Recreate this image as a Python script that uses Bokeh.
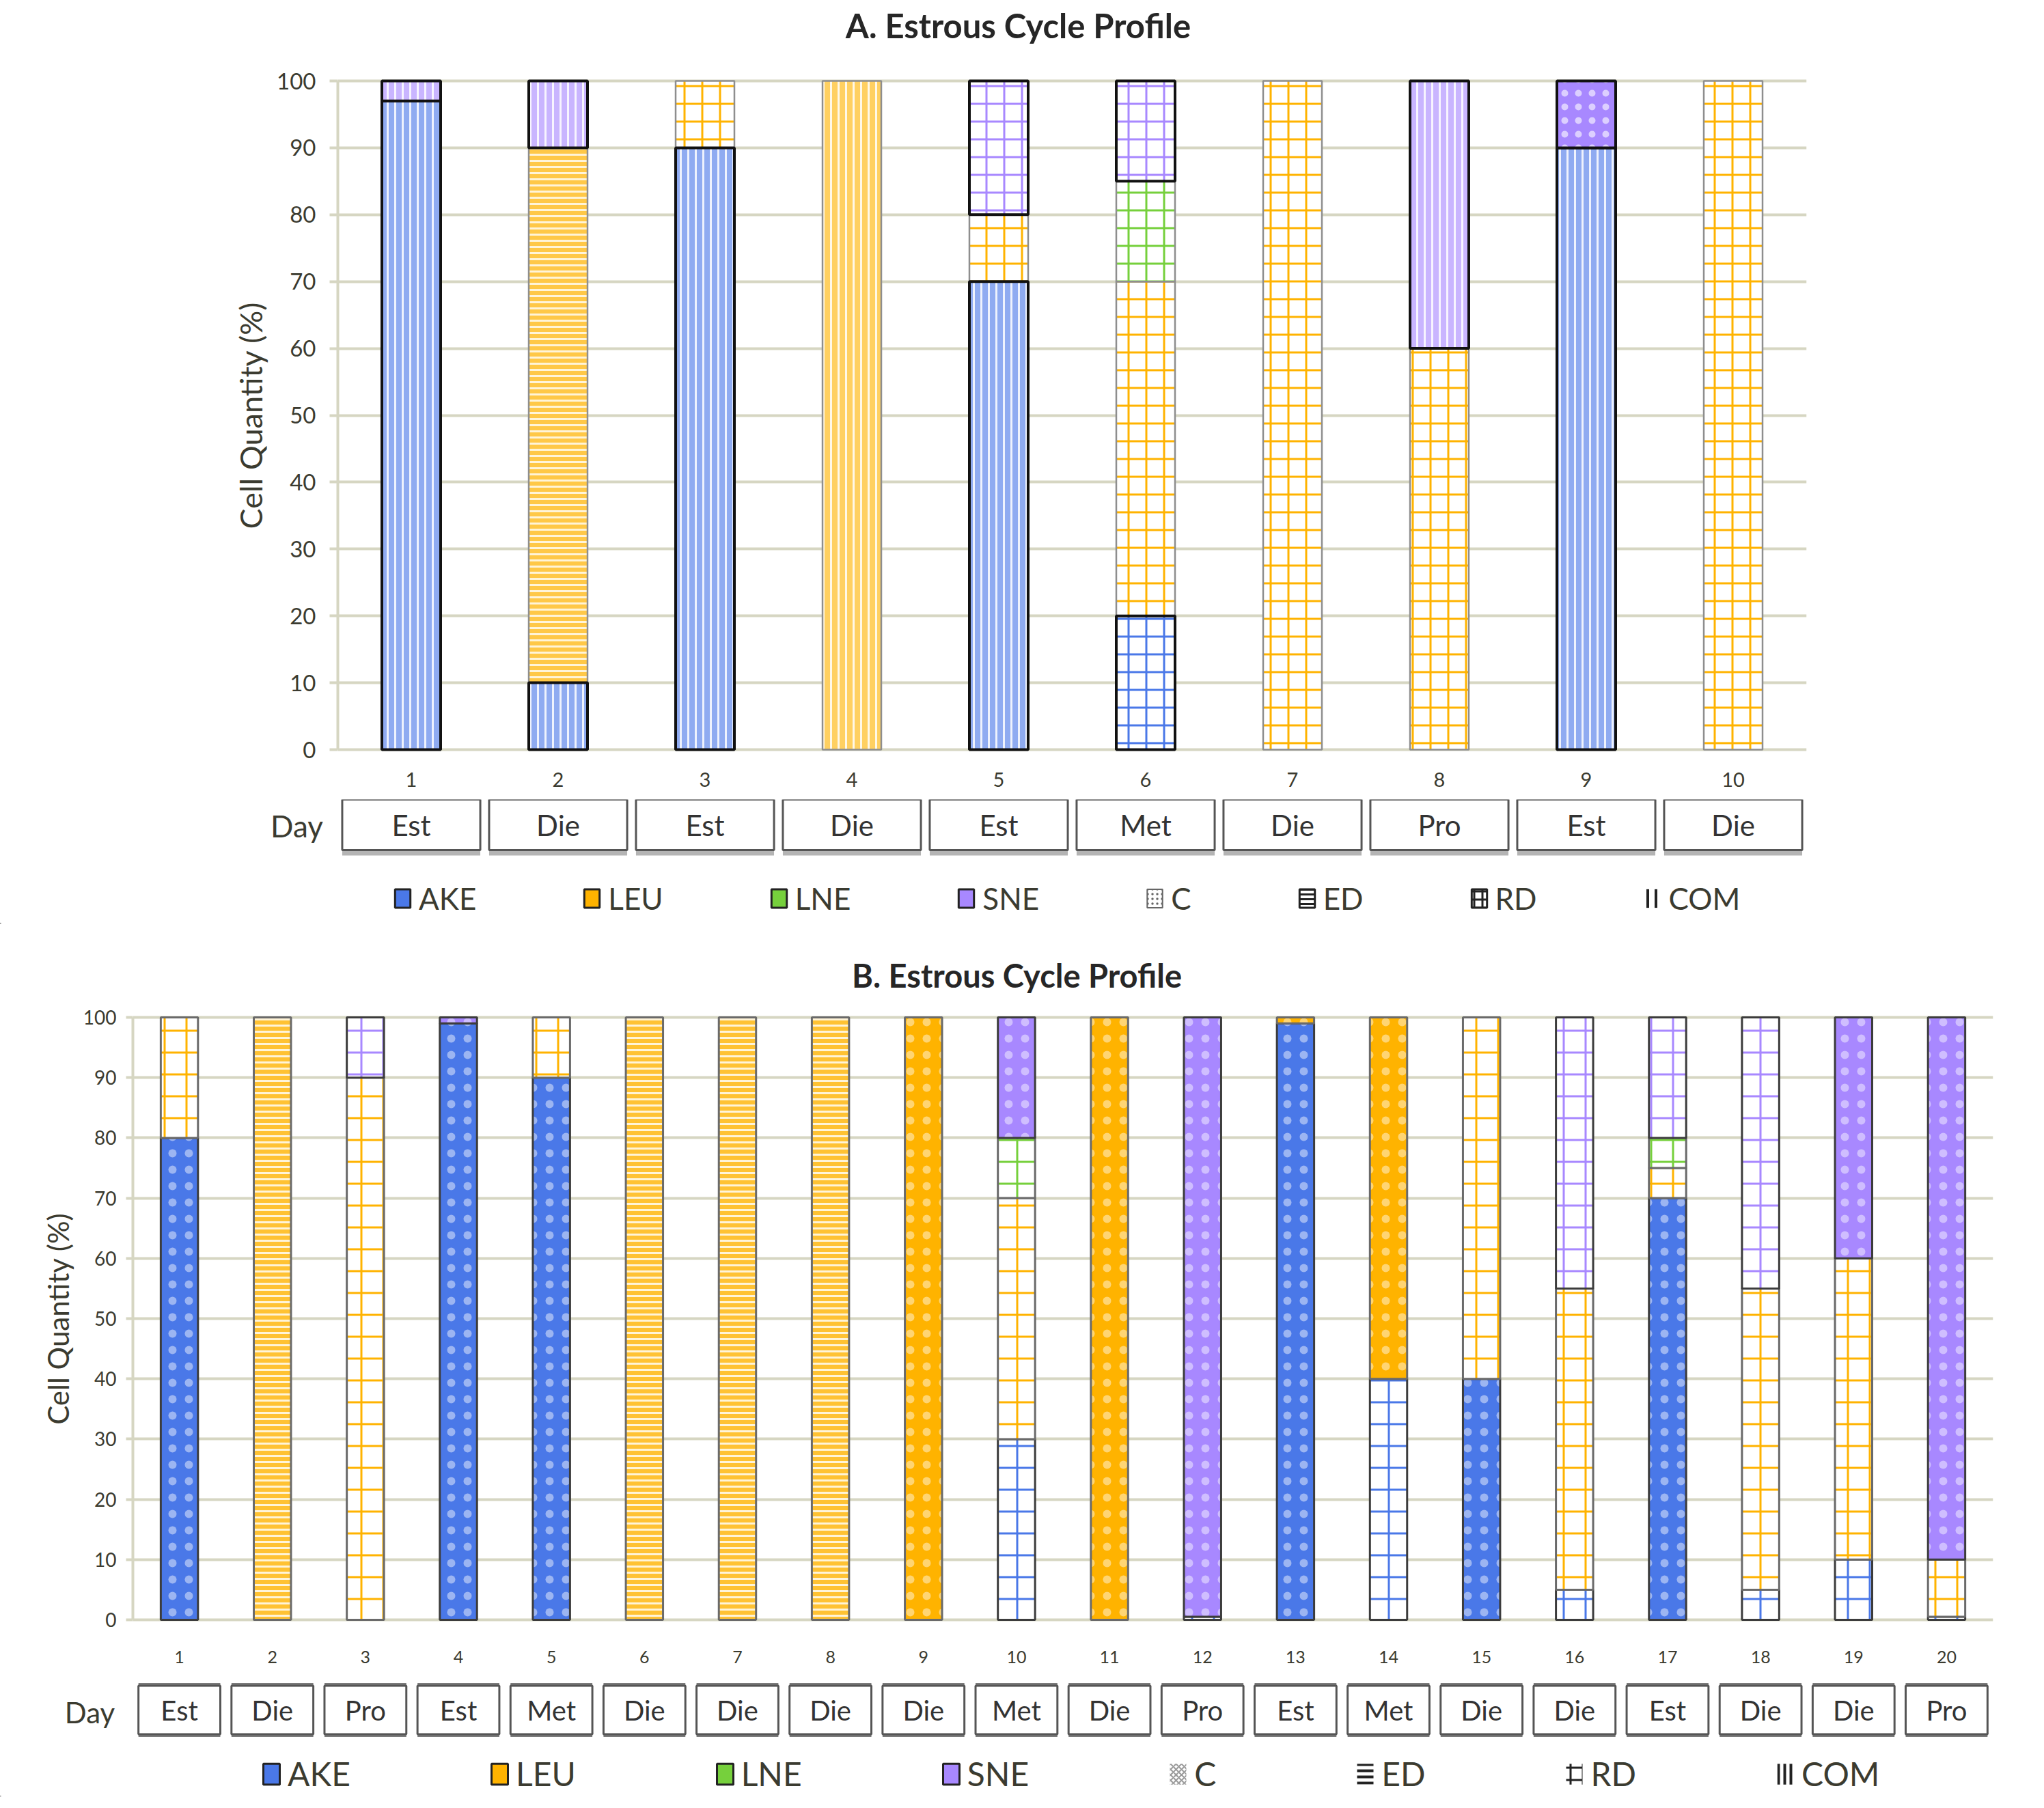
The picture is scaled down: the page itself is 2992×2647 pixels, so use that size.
from bokeh.plotting import figure
from bokeh.models import ColumnDataSource, Range1d, FixedTicker, Legend, LegendItem
from bokeh.layouts import column
from bokeh.embed import file_html
from bokeh.resources import INLINE
from bokeh.core.properties import value

# ---------------- data ----------------
CATS = ["AKE", "LEU", "LNE", "SNE"]

A_days = list(range(1, 11))
A_stage = ["Est", "Die", "Est", "Die", "Est", "Met", "Die", "Pro", "Est", "Die"]
A_AKE = [97, 10, 90, 0, 70, 20, 0, 0, 90, 0]
A_LEU = [0, 80, 10, 100, 10, 50, 100, 60, 0, 100]
A_LNE = [0, 0, 0, 0, 0, 15, 0, 0, 0, 0]
A_SNE = [3, 10, 0, 0, 20, 15, 0, 40, 10, 0]
A_AKE_type = ["COM", "COM", "COM", "", "COM", "RD", "", "", "COM", ""]
A_LEU_type = ["", "ED", "RD", "COM", "RD", "RD", "RD", "RD", "", "RD"]
A_LNE_type = ["", "", "", "", "", "RD", "", "", "", ""]
A_SNE_type = ["COM", "COM", "", "", "RD", "RD", "", "COM", "C", ""]

B_days = list(range(1, 21))
B_stage = ["Est", "Die", "Pro", "Est", "Met", "Die", "Die", "Die", "Die", "Met",
           "Die", "Pro", "Est", "Met", "Die", "Die", "Est", "Die", "Die", "Pro"]
B_AKE = [80, 0, 0, 99, 90, 0, 0, 0, 0, 30, 0, 0.5, 99, 40, 40, 5, 70, 5, 10, 0.5]
B_LEU = [20, 100, 90, 0, 10, 100, 100, 100, 100, 40, 100, 0, 1, 60, 60, 50, 5, 50, 50, 9.5]
B_LNE = [0, 0, 0, 0, 0, 0, 0, 0, 0, 10, 0, 0, 0, 0, 0, 0, 5, 0, 0, 0]
B_SNE = [0, 0, 10, 1, 0, 0, 0, 0, 0, 20, 0, 99.5, 0, 0, 0, 45, 20, 45, 40, 90]
B_AKE_type = ["C", "", "", "C", "C", "", "", "", "", "RD", "", "RD", "C", "RD", "C", "RD", "C", "RD", "RD", "RD"]
B_LEU_type = ["RD", "ED", "RD", "", "RD", "ED", "ED", "ED", "C", "RD", "C", "", "C", "C", "RD", "RD", "RD", "RD", "RD", "RD"]
B_LNE_type = ["", "", "", "", "", "", "", "", "", "RD", "", "", "", "", "", "", "RD", "", "", ""]
B_SNE_type = ["", "", "RD", "C", "", "", "", "", "", "C", "", "C", "", "", "", "RD", "RD", "RD", "C", "C"]

LEGEND_LABELS = ["AKE", "LEU", "LNE", "SNE", "C", "ED", "RD", "COM"]
TITLE_A = "A. Estrous Cycle Profile"
TITLE_B = "B. Estrous Cycle Profile"
Y_LABEL = "Cell Quantity (%)"
Y_TICKS = list(range(0, 101, 10))

# ---------------- styles ----------------
COLORS = {"AKE": "#4a78e8", "LEU": "#ffb300", "LNE": "#76d03c", "SNE": "#a888ff"}
FONT = "Lato"
TXT = "#3b3b30"
GRID = "#d6d6c2"
W = 2976


def tint(hx, f):
    r, g, b = int(hx[1:3], 16), int(hx[3:5], 16), int(hx[5:7], 16)
    mix = lambda c: int(round(255 * (1 - f) + c * f))
    return "#%02x%02x%02x" % (mix(r), mix(g), mix(b))


PAT_A = {
    "COM": dict(fill=0.62, pattern="vertical_line", hc="#ffffff", scale=11, weight=3, ha=0.85),
    "ED": dict(fill=0.72, pattern="horizontal_line", hc="#fff4d8", scale=9, weight=3, ha=1.0),
    "RD": dict(fill=0.0, pattern="cross", hc=None, scale=26, weight=3, ha=1.0),
    "C": dict(fill=1.0, pattern="dot", hc="#ffffff", scale=20, weight=3, ha=0.6),
}
PAT_B = {
    "COM": dict(fill=0.62, pattern="vertical_line", hc="#ffffff", scale=10, weight=3, ha=0.85),
    "ED": dict(fill=0.80, pattern="horizontal_line", hc="#fff4d8", scale=9, weight=3, ha=1.0),
    "RD": dict(fill=0.0, pattern="cross", hc=None, scale=32, weight=3, ha=1.0),
    "C": dict(fill=1.0, pattern="dot", hc="#ffffff", scale=24, weight=2.5, ha=0.45),
}
LINE_A = {"AKE": ("#111111", 4), "SNE": ("#111111", 4), "LEU": ("#8e8e8e", 2.5), "LNE": ("#8e8e8e", 2.5)}
LINE_B = {"AKE": ("#3c3c3c", 3), "SNE": ("#3c3c3c", 3), "LEU": ("#6a6a6a", 3), "LNE": ("#6a6a6a", 3)}


def build_source(days, vals, types, pats, lines):
    rows = []
    for i, d in enumerate(days):
        bottom = 0.0
        for cat in CATS:
            v = vals[cat][i]
            if v > 0:
                t = types[cat][i] or "RD"
                pt = pats[t]
                col = COLORS[cat]
                lc, lw = lines[cat]
                rows.append(dict(x=d, bottom=bottom, top=bottom + v,
                                 fill=tint(col, pt["fill"]) if pt["fill"] < 1 else col,
                                 hp=pt["pattern"], hc=pt["hc"] or col, ha=pt["ha"],
                                 hs=pt["scale"], hw=pt["weight"], lc=lc, lw=lw))
            bottom += v
    rows.sort(key=lambda r: r["lw"])  # thin outlines first, heavy outlines on top
    data = {k: [r[k] for r in rows] for k in rows[0]}
    return ColumnDataSource(data)


def blank_fig(H, xr, yr):
    p = figure(width=W, height=H, output_backend="svg", toolbar_location=None,
               x_range=xr, y_range=yr, x_axis_location=None, y_axis_location=None,
               min_border=0, frame_align=False)
    p.outline_line_alpha = 0
    p.grid.visible = False
    p.background_fill_color = "white"
    p.border_fill_color = "white"
    return p


def title_fig(H, text, cx, cy, size):
    p = blank_fig(H, Range1d(0, W), Range1d(0, H))
    p.text(x=[cx], y=[cy], text=[text], text_align="center", text_baseline="middle",
           text_font=value(FONT), text_font_style="bold", text_font_size=size,
           text_color="#262626")
    return p


def main_fig(days, vals, types, pats, lines, H, fl, fr, ft, fb, s):
    pad = 3
    n = len(days)
    ppu = (fb - ft) / 100.0
    p = figure(width=W, height=H, output_backend="svg", toolbar_location=None,
               x_range=Range1d(0.5, n + 0.5),
               y_range=Range1d(-pad / ppu, 100 + pad / ppu),
               min_border_left=fl, min_border_right=W - fr,
               min_border_top=ft - pad, min_border_bottom=H - fb - pad,
               frame_align=False)
    p.outline_line_alpha = 0
    p.background_fill_color = "white"
    p.border_fill_color = "white"

    src = build_source(days, vals, types, pats, lines)
    p.vbar(x="x", bottom="bottom", top="top", width=0.40, source=src,
           fill_color="fill", hatch_pattern="hp", hatch_color="hc", hatch_alpha="ha",
           hatch_scale="hs", hatch_weight="hw", line_color="lc", line_width="lw")

    p.xgrid.visible = False
    p.ygrid.ticker = FixedTicker(ticks=Y_TICKS)
    p.ygrid.grid_line_color = GRID
    p.ygrid.grid_line_width = 4

    xa = p.xaxis[0]
    xa.ticker = FixedTicker(ticks=days)
    xa.axis_line_alpha = 0
    xa.major_tick_line_alpha = 0
    xa.minor_tick_line_alpha = 0
    xa.major_label_standoff = s["xstand"]
    xa.major_label_text_font = FONT
    xa.major_label_text_font_size = s["xsize"]
    xa.major_label_text_color = TXT

    ya = p.yaxis[0]
    ya.ticker = FixedTicker(ticks=Y_TICKS)
    ya.bounds = (0, 100)
    ya.axis_line_color = GRID
    ya.axis_line_width = 4
    ya.major_tick_line_color = GRID
    ya.major_tick_line_width = 4
    ya.major_tick_out = s["tickout"]
    ya.major_tick_in = 0
    ya.minor_tick_line_alpha = 0
    ya.major_label_standoff = s["ystand"]
    ya.major_label_text_font = FONT
    ya.major_label_text_font_size = s["ysize"]
    ya.major_label_text_color = TXT
    ya.axis_label = Y_LABEL
    ya.axis_label_text_font = FONT
    ya.axis_label_text_font_style = "normal"
    ya.axis_label_text_font_size = s["ylabsize"]
    ya.axis_label_text_color = TXT
    ya.axis_label_standoff = s["ylabstand"]
    return p


def strip_fig(days, stages, Hs, fl, fr, s, legend_styles):
    n = len(days)
    upp = n / float(fr - fl)
    x0 = 0.5 - fl * upp
    x1 = n + 0.5 + (W - fr) * upp
    p = blank_fig(Hs, Range1d(x0, x1), Range1d(0, Hs))

    src = ColumnDataSource(dict(x=days, stage=stages, y=[s["box_y"]] * n))
    p.rect(x="x", y="y", width=s["box_w"], height=s["box_h"] + s["band"], source=src,
           fill_color=s["band_color"], line_alpha=0)
    p.rect(x="x", y="y", width=s["box_w"], height=s["box_h"], source=src,
           fill_color="white", line_color="#555555", line_width=3)
    p.text(x="x", y="y", text="stage", source=src, text_align="center", text_baseline="middle",
           text_font=value(FONT), text_font_size=s["box_font"], text_color="#333333")
    p.text(x=[0.5 + (s["day_x"] - fl) * upp], y=[s["day_y"]], text=["Day"],
           text_align="center", text_baseline="middle",
           text_font=value(FONT), text_font_size=s["day_font"], text_color=TXT)

    items = []
    # legend-key renderers: one point placed far outside the visible ranges
    hx, hy = x0 - 50, -5000
    for lab, st in zip(LEGEND_LABELS, legend_styles):
        r = p.vbar(x=[hx], bottom=[hy], top=[hy + 1], width=0.3, **st)
        items.append(LegendItem(label=lab, renderers=[r]))
    leg = Legend(items=items, orientation="horizontal", location=(s["leg_x"], s["leg_y"]),
                 spacing=s["leg_spacing"], glyph_width=s["gw"], glyph_height=s["gh"],
                 label_height=s["gh"], label_standoff=s["leg_standoff"],
                 label_text_font=FONT, label_text_font_size=s["leg_font"],
                 label_text_color=TXT, label_text_baseline="middle",
                 padding=0, margin=0, border_line_alpha=0, background_fill_alpha=0)
    p.add_layout(leg)
    return p


def legend_styles(panel):
    out = []
    for cat in CATS:
        out.append(dict(fill_color=COLORS[cat], line_color="#222222", line_width=3))
    if panel == "A":
        out.append(dict(fill_color="white", line_color="#666666", line_width=2,
                        hatch_pattern="dot", hatch_color="#666666", hatch_scale=7, hatch_weight=2))
        out.append(dict(fill_color="white", line_color="#222222", line_width=3,
                        hatch_pattern="horizontal_line", hatch_color="#222222", hatch_scale=7, hatch_weight=3))
        out.append(dict(fill_color="white", line_color="#222222", line_width=3,
                        hatch_pattern="cross", hatch_color="#222222", hatch_scale=12, hatch_weight=3))
        out.append(dict(fill_alpha=0, line_alpha=0,
                        hatch_pattern="vertical_line", hatch_color="#222222", hatch_scale=12, hatch_weight=4))
    else:
        out.append(dict(fill_alpha=0, line_alpha=0,
                        hatch_pattern="diagonal_cross", hatch_color="#9a9a9a", hatch_scale=8, hatch_weight=2))
        out.append(dict(fill_alpha=0, line_alpha=0,
                        hatch_pattern="horizontal_line", hatch_color="#222222", hatch_scale=9, hatch_weight=4))
        out.append(dict(fill_alpha=0, line_alpha=0,
                        hatch_pattern="cross", hatch_color="#222222", hatch_scale=18, hatch_weight=3))
        out.append(dict(fill_alpha=0, line_alpha=0,
                        hatch_pattern="vertical_line", hatch_color="#222222", hatch_scale=9, hatch_weight=4))
    return out


SA = dict(xstand=24, xsize="29px", tickout=12, ystand=20, ysize="33px",
          ylabsize="45px", ylabstand=8)
SB = dict(xstand=36, xsize="25px", tickout=10, ystand=14, ysize="28px",
          ylabsize="42px", ylabstand=9)

A_vals = dict(AKE=A_AKE, LEU=A_LEU, LNE=A_LNE, SNE=A_SNE)
A_types = dict(AKE=A_AKE_type, LEU=A_LEU_type, LNE=A_LNE_type, SNE=A_SNE_type)
B_vals = dict(AKE=B_AKE, LEU=B_LEU, LNE=B_LNE, SNE=B_SNE)
B_types = dict(AKE=B_AKE_type, LEU=B_LEU_type, LNE=B_LNE_type, SNE=B_SNE_type)

# page layout (px): titleA 0-86, A 86-1170, stripA 1170-1352, titleB 1352-1460, B 1460-2452, stripB 2452-2630
titleA = title_fig(86, TITLE_A, 1490, 50, "49px")
figA = main_fig(A_days, A_vals, A_types, PAT_A, LINE_A, 1084, 494, 2644, 32, 1011, SA)
stripA = strip_fig(A_days, A_stage, 182, 494, 2644,
                   dict(box_y=145, box_w=0.94, box_h=74, band=16, band_color="#b4b4b4",
                        box_font="42px", day_x=434, day_y=144, day_font="44px",
                        leg_x=575, leg_y=11, leg_spacing=155, gw=28, gh=34,
                        leg_standoff=10, leg_font="44px"),
                   legend_styles("A"))
titleB = title_fig(108, TITLE_B, 1488, 33, "47px")
figB = main_fig(B_days, B_vals, B_types, PAT_B, LINE_B, 992, 194, 2917, 29, 911, SB)
stripB = strip_fig(B_days, B_stage, 178, 194, 2917,
                   dict(box_y=127, box_w=0.88, box_h=71, band=8, band_color="#7a7a7a",
                        box_font="40px", day_x=131, day_y=124, day_font="42px",
                        leg_x=382, leg_y=5, leg_spacing=203, gw=30, gh=38,
                        leg_standoff=9, leg_font="48px"),
                   legend_styles("B"))

layout = column(titleA, figA, stripA, titleB, figB, stripB, spacing=0)
open("out.html", "w").write(file_html(layout, INLINE))
